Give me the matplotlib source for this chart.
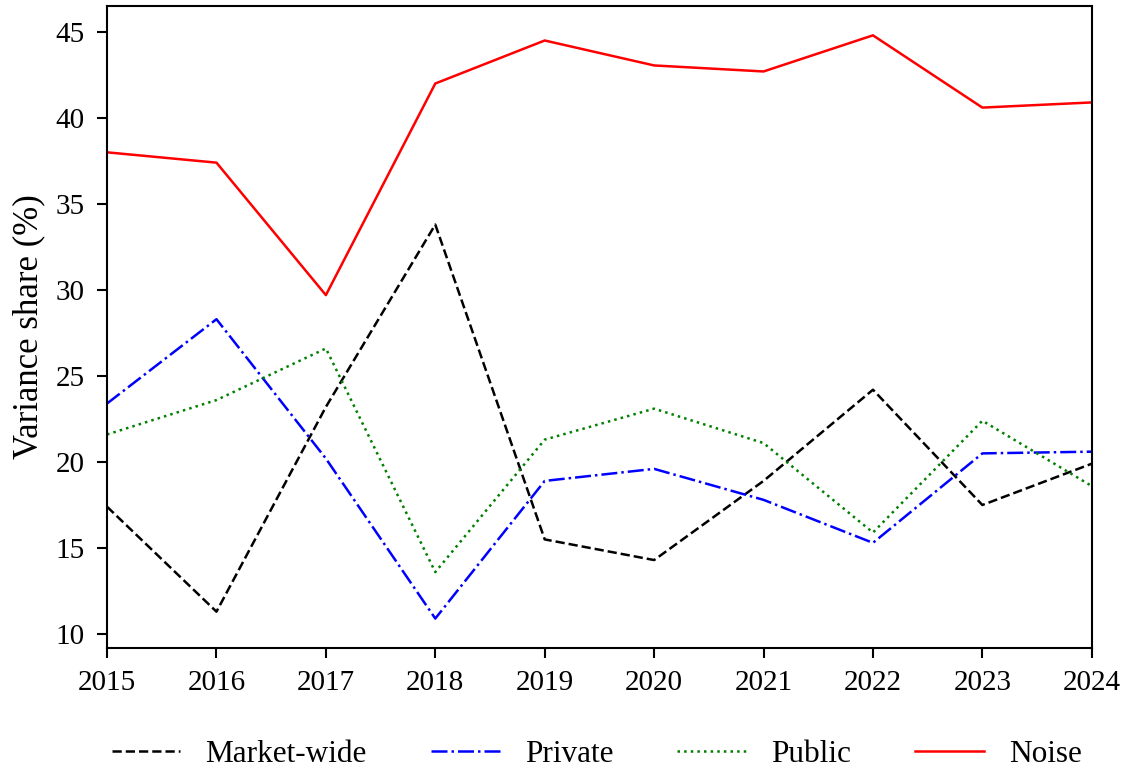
import matplotlib
matplotlib.use("Agg")
import matplotlib.pyplot as plt

plt.rcParams['font.family'] = ['Liberation Serif', 'DejaVu Serif']
plt.rcParams['mathtext.fontset'] = 'stix'

years = [2015, 2016, 2017, 2018, 2019, 2020, 2021, 2022, 2023, 2024]
market_wide = [17.4, 11.3, 23.2, 33.8, 15.5, 14.3, 18.9, 24.2, 17.5, 19.9]
private = [23.4, 28.3, 20.2, 10.9, 18.9, 19.6, 17.8, 15.3, 20.5, 20.6]
public = [21.6, 23.6, 26.6, 13.6, 21.3, 23.1, 21.1, 15.9, 22.4, 18.6]
noise = [38.0, 37.4, 29.7, 42.0, 44.5, 43.05, 42.7, 44.8, 40.6, 40.9]

fig = plt.figure(figsize=(11.28, 7.72), dpi=100)
ax = fig.add_axes([0.0949, 0.161, 0.873, 0.831])

lw = 1.8
ax.plot(years, market_wide, color='black', linestyle='--', linewidth=lw, label='Market-wide')
ax.plot(years, private, color='blue', linestyle='-.', linewidth=lw, label='Private')
ax.plot(years, public, color='green', linestyle=':', linewidth=lw, label='Public')
ax.plot(years, noise, color='red', linestyle='-', linewidth=lw, label='Noise')

ax.set_xlim(2015, 2024)
ax.set_xticks(years)
ax.set_yticks([10, 15, 20, 25, 30, 35, 40, 45])
ax.tick_params(axis='both', labelsize=21, width=1.5, length=7)
ax.tick_params(axis='x', pad=9)
ax.tick_params(axis='y', pad=9)
ax.set_ylabel('Variance share (%)', fontsize=25)
ax.yaxis.set_label_coords(-0.063, 0.5)
for s in ax.spines.values():
    s.set_linewidth(1.5)

fig.legend(loc='lower center', bbox_to_anchor=(0.529, -0.032), ncol=4, frameon=False,
           fontsize=22.5, handlelength=2.2, handletextpad=0.8, columnspacing=2.05)

fig.savefig('out.png', dpi=100)
